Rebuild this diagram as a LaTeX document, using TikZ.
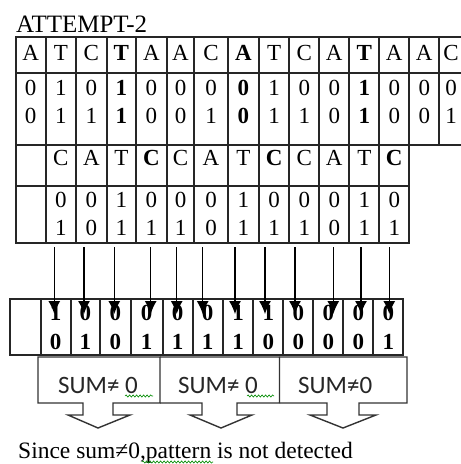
\documentclass[tikz,border=0pt]{standalone}
\usepackage{fontspec}
\setmainfont{Liberation Serif}
\newfontfamily\calib{Carlito}
\usetikzlibrary{arrows.meta,decorations.pathmorphing}
\tikzset{
  grid/.style={line width=1.7pt, draw=black!85},
  txt/.style={anchor=base, inner sep=0pt, font=\fontsize{23}{27}\selectfont},
  btxt/.style={txt, font=\fontsize{23}{27}\selectfont\bfseries},
  arr/.style={line width=1.2pt, -{Latex[length=13pt,width=12pt]}},
  callout/.style={line width=1.4pt, draw=black!80},
  sumtxt/.style={anchor=base west, inner sep=0pt, font=\calib\fontsize{25}{30}\selectfont, text=black!85},
  squig/.style={draw=green!55!black, line width=0.6pt, decorate, decoration={snake, amplitude=1.1pt, segment length=3.5pt}}
}
\begin{document}
\begin{tikzpicture}[x=1pt,y=-1pt]
\useasboundingbox (0,0) rectangle (461,464);
\fill[white] (0,0) rectangle (461,464);
\clip (0,0) rectangle (461,464);
% title
\node[anchor=base west, inner sep=0pt, font=\fontsize{25}{28}\selectfont] (title) at (16,32) {ATTEMPT-2};
% top table grid
\foreach \a/\b in {15.7/45.7,45.7/76,76/106.7,106.7/136,136/166.7,166.7/194.3,194.3/227.7,227.7/259,259/289.3,289.3/319.3,319.3/349.3,349.3/379.3,379.3/409.3,409.3/439.3,439.3/480}{
  \draw[grid] (\a,36.7) rectangle (\b,73);
  \draw[grid] (\a,73) rectangle (\b,145);
}
\foreach \a/\b in {15.7/45.7,45.7/76,76/106.7,106.7/136,136/166.7,166.7/194.3,194.3/227.7,227.7/259,259/289.3,289.3/319.3,319.3/349.3,349.3/379.3,379.3/409.3}{
  \draw[grid] (\a,145) rectangle (\b,186);
  \draw[grid] (\a,186) rectangle (\b,243);
}
% row 1 and row 2 texts
\foreach \x/\s/\t/\u/\v [count=\i] in {30.7/txt/A/0/0, 60.85/txt/T/1/1, 91.35/txt/C/0/1, 121.35/btxt/T/1/1, 151.35/txt/A/0/0, 180.5/txt/A/0/0, 211/txt/C/0/1, 243.35/btxt/A/0/0, 274.15/txt/T/1/1, 304.3/txt/C/0/1, 334.3/txt/A/0/0, 364.3/btxt/T/1/1, 394.3/txt/A/0/0, 424.3/txt/A/0/0, 451/txt/C/0/1}{
  \node[\s] (L\i) at (\x,60) {\t};
  \node[\s] (P\i) at (\x,95) {\u};
  \node[\s] (Q\i) at (\x,123) {\v};
}
% row 3 and row 4 texts
\foreach \x/\s/\t/\u/\v [count=\i] in {60.85/txt/C/0/1, 91.35/txt/A/0/0, 121.35/txt/T/1/1, 151.35/btxt/C/0/1, 180.5/txt/C/0/1, 211/txt/A/0/0, 243.35/txt/T/1/1, 274.15/btxt/C/0/1, 304.3/txt/C/0/1, 334.3/txt/A/0/0, 364.3/txt/T/1/1, 394.3/btxt/C/0/1}{
  \node[\s] (M\i) at (\x,165) {\t};
  \node[txt] (R\i) at (\x,207) {\u};
  \node[txt] (S\i) at (\x,235) {\v};
}
% lower table grid
\foreach \a/\b in {10/40.7,40.7/70.7,70.7/100,100/130.7,130.7/162.7,162.7/192.7,192.7/222.7,222.7/253.3,253.3/283.3,283.3/313.3,313.3/343.3,343.3/373.3,373.3/403.3}{
  \draw[grid] (\a,299) rectangle (\b,355);
}
\foreach \x/\u/\v [count=\i] in {55.7/1/0, 85.35/0/1, 115.35/0/0, 146.7/0/1, 177.7/0/1, 207.7/0/1, 238/1/1, 268.3/1/0, 298.3/0/0, 328.3/0/0, 358.3/0/0, 388.3/0/1}{
  \node[btxt] (X\i) at (\x,320) {\u};
  \node[btxt] (Y\i) at (\x,349) {\v};
}
% arrows
\foreach \x [count=\i] in {54.3,84,114.3,150.7,176.7,202.7,235,265,295,333.3,361,389.3}{
  \coordinate (s\i) at (\x,247);
  \coordinate (e\i) at (\x,314);
  \draw[arr] (s\i) -- (e\i);
}
% callouts
\draw[callout] (38,357) -- (160,357) -- (160,403) -- (113,403) -- (113,415) -- (130,415) -- (98,428) -- (68,415) -- (83,415) -- (83,403) -- (38,403) -- cycle;
\draw[callout] (160,357) -- (279.5,357) -- (279.5,403) -- (237,403) -- (237,415) -- (252,415) -- (221,428) -- (190,415) -- (202,415) -- (202,403) -- (160,403);
\draw[callout] (279.5,357) -- (407,357) -- (407,403) -- (359,403) -- (359,415) -- (376,415) -- (343,428) -- (310,415) -- (327,415) -- (327,403) -- (279.5,403);
\node[sumtxt] (sum1) at (58,393) {SUM≠ 0};
\node[sumtxt] (sum2) at (178,393) {SUM≠ 0};
\node[sumtxt] (sum3) at (298,393) {SUM≠0};
\draw[squig] (125,396) -- (153,396);
\draw[squig] (247,396) -- (274,396);
% conclusion
\node[anchor=base west, inner sep=0pt, font=\fontsize{23.5}{27}\selectfont] (concl) at (18,458) {Since sum≠0,pattern is not detected};
\draw[squig] (142,462) -- (213,462);
\end{tikzpicture}
\end{document}
